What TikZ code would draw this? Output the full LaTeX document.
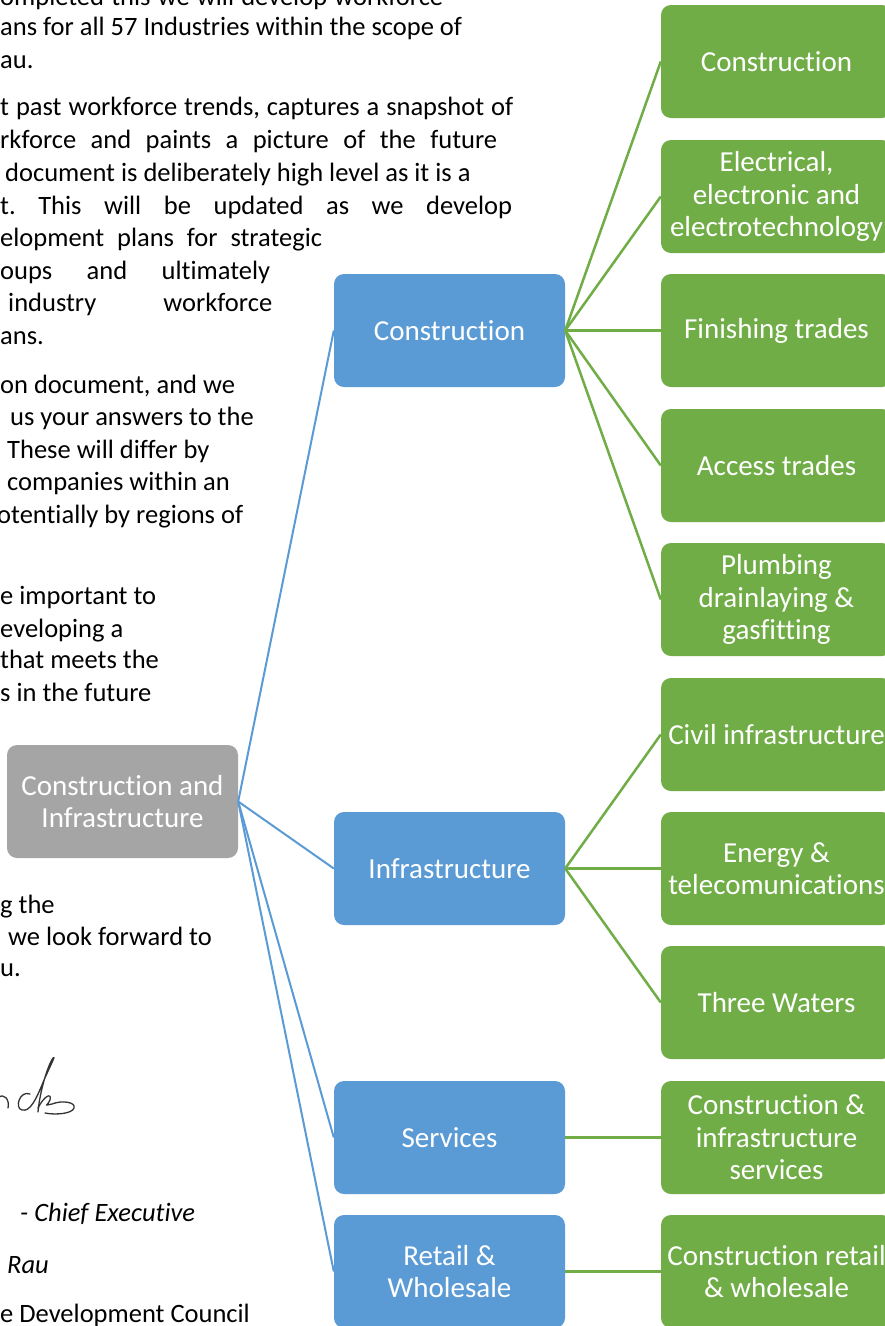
\documentclass[tikz,border=0pt]{standalone}
\usepackage{fontspec}
\setmainfont{Carlito}[Ligatures=NoCommon]
\frenchspacing
\definecolor{cblue}{HTML}{5B9BD5}
\definecolor{cgreen}{HTML}{70AD47}
\definecolor{cgrey}{HTML}{A5A5A5}
\newcommand\boxfont{\fontsize{29}{32.5}\selectfont}
\newcommand\bodyfont{\fontsize{26.5}{33}\selectfont}
\newcommand\jline[2]{\makebox[#1][s]{#2}}
\begin{document}
\begin{tikzpicture}[x=1pt,y=-1pt,
  box/.style={rounded corners=10pt, minimum width=231pt, minimum height=113pt, text=white, font=\boxfont, align=center, inner sep=0pt},
  bluebox/.style={box, fill=cblue},
  greenbox/.style={box, fill=cgreen},
  greybox/.style={box, fill=cgrey},
  bline/.style={draw=cblue, line width=2pt},
  gline/.style={draw=cgreen, line width=2.5pt},
  body/.style={anchor=mid west, inner sep=0pt, font=\bodyfont\frenchspacing},
  sig/.style={draw=black!80, line width=1.3pt, line cap=round, line join=round}
]
\useasboundingbox (0,0) rectangle (885,1326);
\clip (0,0) rectangle (885,1326);
\fill[white] (0,0) rectangle (885,1326);

% body text (cropped page)
\node[body] (t1) at (0,3) {\jline{443pt}{ompleted this we will develop workforce}};
\node[body] (t2) at (0,33) {ans for all 57 Industries within the scope of};
\node[body] (t3) at (0,66) {au.};
\node[body] (t4) at (0,113) {\jline{513pt}{t past workforce trends, captures a snapshot of}};
\node[body] (t5) at (0,146) {\jline{497pt}{rkforce and paints a picture of the future}};
\node[body] (t6) at (5,179) {document is deliberately high level as it is a};
\node[body] (t7) at (0,212) {\jline{512pt}{t. This will be updated as we develop}};
\node[body] (t8) at (0,244) {\jline{322pt}{elopment plans for strategic}};
\node[body] (t9) at (0,277) {\jline{270pt}{oups and ultimately}};
\node[body] (t10) at (8,309) {\jline{264pt}{industry workforce}};
\node[body] (t11) at (0,342) {ans.};
\node[body] (t12) at (0,391) {on document, and we};
\node[body] (t13) at (10,423) {us your answers to the};
\node[body] (t14) at (7,456) {These will differ by};
\node[body] (t15) at (7,488) {companies within an};
\node[body] (t16) at (-3,521) {otentially by regions of};
\node[body] (t17) at (0,602) {e important to};
\node[body] (t18) at (0,635) {eveloping a};
\node[body] (t19) at (0,666) {that meets the};
\node[body] (t20) at (0,699) {s in the future};
\node[body] (t21) at (0,911) {g the};
\node[body] (t22) at (8,943) {we look forward to};
\node[body] (t23) at (0,974) {u.};
\node[body] (t24) at (20,1219) {\itshape - Chief Executive};
\node[body] (t25) at (7,1271) {\itshape Rau};
\node[body] (t26) at (0,1320) {e Development Council};

% signature
\draw[sig] (-2,1098) .. controls (4,1092) and (10,1100) .. (8,1108);
\draw[sig] (30,1094) .. controls (20,1090) and (14,1108) .. (22,1110) .. controls (30,1112) and (36,1100) .. (44,1080) .. controls (52,1062) and (56,1055) .. (53,1058) .. controls (48,1065) and (40,1090) .. (38,1112);
\draw[sig] (38,1108) .. controls (44,1096) and (52,1092) .. (50,1100) .. controls (48,1106) and (42,1106) .. (52,1104) .. controls (62,1100) and (76,1102) .. (74,1108) .. controls (72,1114) and (55,1115) .. (45,1113);

% diagram nodes
\node[greybox] (root) at (122.5,801.5) {Construction and\\Infrastructure};

\node[bluebox] (b1) at (449.5,330.5) {Construction};
\node[bluebox] (b2) at (449.5,868.5) {Infrastructure};
\node[bluebox] (b3) at (449.5,1137.5) {Services};
\node[bluebox] (b4) at (449.5,1271.5) {Retail \&\\Wholesale};

\node[greenbox] (g1) at (776.5,61.5) {Construction};
\node[greenbox] (g2) at (776.5,196.5) {Electrical,\\electronic and\\electrotechnology};
\node[greenbox] (g3) at (776.5,330.5) {Finishing trades};
\node[greenbox] (g4) at (776.5,465.5) {Access trades};
\node[greenbox] (g5) at (776.5,599.5) {Plumbing\\drainlaying \&\\gasfitting};
\node[greenbox] (g6) at (776.5,734.5) {Civil infrastructure};
\node[greenbox] (g7) at (776.5,868.5) {Energy \&\\telecomunications};
\node[greenbox] (g8) at (776.5,1002.5) {Three Waters};
\node[greenbox] (g9) at (776.5,1137.5) {Construction \&\\infrastructure\\services};
\node[greenbox] (g10) at (776.5,1271.5) {Construction retail\\\& wholesale};

% connectors
\foreach \b in {b1,b2,b3,b4} \draw[bline] (root.east) -- (\b.west);
\foreach \g in {g1,g2,g3,g4,g5} \draw[gline] (b1.east) -- (\g.west);
\foreach \g in {g6,g7,g8} \draw[gline] (b2.east) -- (\g.west);
\draw[gline] (b3.east) -- (g9.west);
\draw[gline] (b4.east) -- (g10.west);
\end{tikzpicture}
\end{document}
